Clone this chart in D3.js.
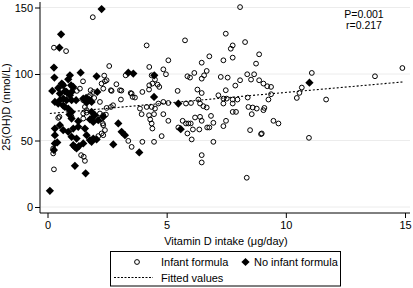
<!DOCTYPE html>
<html><head><meta charset="utf-8">
<script src="https://cdn.jsdelivr.net/npm/d3@7"></script>
<style>
html,body{margin:0;padding:0;background:#fff;}
svg{display:block;font-family:"Liberation Sans",Arial,sans-serif;}
</style></head>
<body><svg id="c" width="413" height="288"></svg>
<script>
const xTicks = [0, 5, 10, 15];
const yTicks = [0, 50, 100, 150];
const xTitle = "Vitamin D intake (μg/day)";
const yTitle = "25(OH)D (nmol/L)";
const annotation = ["P=0.001", "r=0.217"];
const legendLabels = ["Infant formula", "No infant formula", "Fitted values"];
const fittedX = [0.1, 14.9];
const fittedY = [70.3, 94.0];

const infantFormula = [
[1.90,142.7],[0.27,119.8],[0.78,117.2],[2.59,106],[1.49,94.5],[2.38,98.8],[2.41,94.5],[2.48,95.3],[2.89,92.3],[3.28,99],
[1.81,87.8],[2.69,87.3],[3.10,87.5],[3.49,85.7],[3.67,82.3],[3.08,80.8],[1.75,82.7],[1.96,82],[2.2,79],[1.57,75.2],
[1.23,87.3],[1.92,86.5],[1.78,84],[1.5,80.3],[2.27,92.8],[2.34,89],[2.66,87.8],[3.04,87.8],[3.57,82.8],[1.36,89],
[1.64,72.8],[2.66,75.2],[2.48,74.5],[3.88,74],[1.5,70.3],[0.45,67],[1.5,66.5],[2.2,70.3],[2.34,69],[2.27,66.5],
[2.34,61.5],[2.41,57.8],[2.27,55.3],[2.34,54],[3.39,49.7],[3.53,45.2],[0.24,44],[0.24,40.3],[1.41,39],[1.52,37.8],
[1.57,34.7],[0.27,28.3],[2.13,53.3],[2.32,62.8],[2.45,69.5],[2.75,76.5],[0.5,67.8],[1.01,67.8],[1.64,71],[3.53,85.3],
[8.08,150.3],[7.48,130.3],[8.29,124],[7.77,121.5],[7.69,119],[5.77,125.3],[4.16,121.5],[8.88,114.8],[8.75,107.8],[6.79,113.3],
[6.47,108.5],[7.38,110.3],[7.77,112.3],[5.07,110.3],[4.27,105.3],[4.86,103.5],[4.97,99.8],[6.68,102.3],[6.57,99],[6.47,96.5],
[5.87,98.3],[5.98,97.3],[6.16,100.8],[7.27,97.8],[7.56,97.3],[8.38,99.8],[8.67,99.8],[8.54,95.8],[8.88,95.3],[9.06,92.8],
[9.22,90.8],[8.08,95.3],[7.88,91.3],[4.37,99],[4.51,95.8],[4.4,92.8],[4.27,91.5],[4.26,88.3],[4.62,92.0],[4.69,90.3],
[3.98,86.5],[6.29,88.3],[6.47,85.7],[5.46,87.3],[7.48,87.8],[7.17,84],[7.38,81.5],[7.52,81.5],[7.77,80.8],[7.97,80.8],
[8.4,82.3],[9.27,80.8],[6.33,80.8],[6.4,77.8],[4.86,79],[5.07,78.2],[4.65,77.8],[4.37,75.2],[4.16,75.2],[4.51,74],
[5.81,77.8],[6.02,78.2],[6.54,75.8],[6.68,74.8],[8.43,75.2],[8.61,74.8],[8.78,74],
[3.95,69.8],[4.47,69.8],[4.26,69],[4.31,65.8],[4.37,62.8],[4.4,59],[4.86,69.8],[5.07,64.8],[4.79,53.3],[4.47,49],
[3.98,49],[5.67,64.8],[5.81,62.8],[5.91,62.8],[6.01,62.8],[5.49,59.8],[5.87,55.3],[6.05,50.8],[6.19,67.3],[6.4,67.8],
[6.47,64.8],[6.1,58.3],[6.37,58.3],[6.7,59.8],[6.79,59.8],[6.96,63.3],[6.86,68.5],[6.96,49],[6.47,39],[6.47,33.5],
[7.38,77.8],[7.77,77.8],[7.49,64.8],[7.38,60.8],[7.77,71.5],[7.91,71.5],[9.06,72.8],[8.57,69.8],[8.5,57.8],[8.96,54.8],
[8.36,22],[9.38,90.3],[11.09,100.8],[10.67,89.8],[10.57,85.8],[10.46,82],[11.69,80.8],[13.74,98.3],[14.89,104.5],[9.38,84.8],
[9.1,74.5],[9.48,64.8],[9.69,62.8],[8.99,55.3],[10.97,52]
];

const noInfantFormula = [
[2.27,148.8],[0.57,129.8],[0.50,119.8],[0.27,104.8],[0.29,97.3],[1.39,101],[0.94,99],[0.87,96],[2.06,98.3],[3.39,101],
[3.60,100.3],[0.2,87.3],[2.09,86.5],[1.5,81.5],[1.75,80.5],[0.6,92.8],[0.45,89.5],[0.73,87],[0.99,91.5],[0.8,86.5],
[0.94,84],[0.8,80.3],[1.01,80.3],[0.52,80.3],[0.45,77.8],[0.66,76.3],[0.66,91.5],[1.08,90.3],[0.52,85.3],[1.01,86.5],
[0.66,81.5],[0.31,79],[0.73,75.2],[0.87,74],[1.01,71.5],[0.92,69.5],[1.01,66.5],[1.62,82],[1.64,78.5],[1.85,79],
[1.2,80.3],[1.85,71.5],[1.99,69],[1.85,66.5],[2.13,65.3],[1.92,64],[2.34,67.8],[1.29,64.5],[2.97,62.8],[3.11,56.5],
[3.25,54],[2.76,47],[0.52,61.5],[0.31,59],[0.66,57.8],[0.87,56.5],[1.08,59],[1.29,60.3],[0.31,54],[1.01,52.8],
[1.22,51.5],[1.64,54],[1.78,50.3],[1.92,51.5],[1.5,47.8],[0.31,47.8],[1.08,46.5],[1.22,44],[1.15,31],[1.6,25.3],
[0.1,12.2],[0.27,42.8],[0.41,48.5],[1.15,45.2],[1.32,45.8],[2.06,50.8],[1.57,59],[1.78,65.8],[3.85,41],[4.48,99],
[4.47,82.8],[5.49,77.8],[5.59,58.5],[10.99,93.5],[1.85,49]
];

const svg = d3.select("#c");
const x = d3.scaleLinear().domain([0, 15]).range([47.5, 405]);
const y = d3.scaleLinear().domain([0, 150]).range([207, 7.5]);
const axisX = 40, axisY = 213, plotRight = 410;

// gridlines
svg.append("g").selectAll("line").data(yTicks).join("line")
  .attr("x1", axisX + 1).attr("x2", plotRight)
  .attr("y1", d => y(d)).attr("y2", d => y(d))
  .attr("stroke", "#ececec").attr("stroke-width", 1);

// y axis
const yAxis = d3.axisLeft(y).tickValues(yTicks).tickSize(5).tickPadding(2);
const gy = svg.append("g").attr("transform", `translate(${axisX},0)`).call(yAxis);
gy.select(".domain").remove();
gy.append("line").attr("x1", 0).attr("x2", 0).attr("y1", 2).attr("y2", axisY).attr("stroke", "#000");
gy.selectAll(".tick line").attr("stroke", "#000");
gy.selectAll(".tick text").attr("font-size", 11).attr("fill", "#000").attr("font-family", "Liberation Sans, Arial, sans-serif");

// x axis
const xAxis = d3.axisBottom(x).tickValues(xTicks).tickSize(5).tickPadding(3);
const gx = svg.append("g").attr("transform", `translate(0,${axisY})`).call(xAxis);
gx.select(".domain").remove();
gx.append("line").attr("x1", axisX).attr("x2", plotRight).attr("y1", 0).attr("y2", 0).attr("stroke", "#000");
gx.selectAll(".tick line").attr("stroke", "#000");
gx.selectAll(".tick text").attr("font-size", 11).attr("fill", "#000").attr("font-family", "Liberation Sans, Arial, sans-serif");

// titles
svg.append("text").attr("x", 226).attr("y", 244.5).attr("text-anchor", "middle")
  .attr("font-size", 11).text(xTitle);
svg.append("text").attr("transform", "translate(10,107) rotate(-90)").attr("text-anchor", "middle")
  .attr("font-size", 11).text(yTitle);

// annotation
svg.append("g").selectAll("text").data(annotation).join("text")
  .attr("x", 364).attr("y", (d, i) => 18 + i * 10.5).attr("text-anchor", "middle")
  .attr("font-size", 10.5).text(d => d);

// circles
svg.append("g").selectAll("circle").data(infantFormula).join("circle")
  .attr("cx", d => x(d[0])).attr("cy", d => y(d[1])).attr("r", 2.4)
  .attr("fill", "none").attr("stroke", "#000").attr("stroke-width", 1);

// diamonds
const diamond = d3.symbol().type(d3.symbolSquare).size(34);
svg.append("g").selectAll("path").data(noInfantFormula).join("path")
  .attr("d", diamond)
  .attr("transform", d => `translate(${x(d[0])},${y(d[1])}) rotate(45)`)
  .attr("fill", "#000");

// fitted line
const line = d3.line().x(d => x(d[0])).y(d => y(d[1]));
svg.append("path").datum(fittedX.map((v, i) => [v, fittedY[i]]))
  .attr("d", line).attr("fill", "none").attr("stroke", "#000")
  .attr("stroke-width", 1.1).attr("stroke-dasharray", "2,2");

// legend
const lg = svg.append("g");
lg.append("rect").attr("x", 110.5).attr("y", 251.5).attr("width", 230).attr("height", 34.5)
  .attr("fill", "#fff").attr("stroke", "#000").attr("stroke-width", 1);
lg.append("circle").attr("cx", 137).attr("cy", 262).attr("r", 2.4)
  .attr("fill", "none").attr("stroke", "#000").attr("stroke-width", 1);
lg.append("text").attr("x", 161).attr("y", 266).attr("font-size", 11).text(legendLabels[0]);
lg.append("path").attr("d", diamond).attr("transform", "translate(245.5,262) rotate(45)").attr("fill", "#000");
lg.append("text").attr("x", 254).attr("y", 266).attr("font-size", 11).text(legendLabels[1]);
lg.append("line").attr("x1", 114).attr("x2", 153).attr("y1", 277.5).attr("y2", 277.5)
  .attr("stroke", "#000").attr("stroke-width", 1).attr("stroke-dasharray", "2,1.5");
lg.append("text").attr("x", 161).attr("y", 281.5).attr("font-size", 11).text(legendLabels[2]);
</script>
</body></html>
